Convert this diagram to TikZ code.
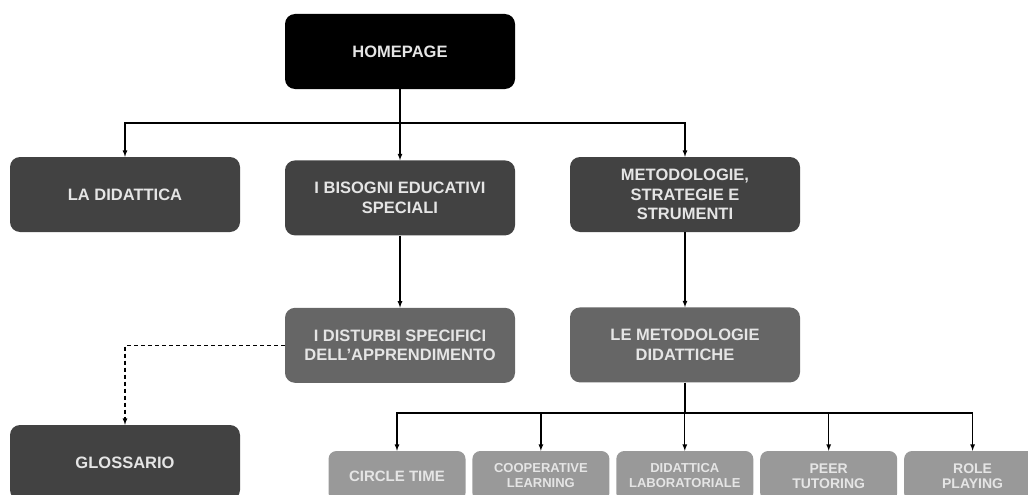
\documentclass[tikz,border=0pt]{standalone}
\usepackage{fontspec}
\setmainfont{Liberation Sans}
\usetikzlibrary{positioning}
\usetikzlibrary{arrows}

\newcommand{\pagetxt}{\fontsize{16.5}{19.5}\selectfont\bfseries}
\newcommand{\leaftxt}{\fontsize{13}{15}\selectfont\bfseries}

\begin{document}
\begin{tikzpicture}[x=1pt, y=-1pt]
    \tikzstyle{page-root} = [fill=black, text=white!90!black, rounded corners=10pt, minimum width=230pt, minimum height=75pt, inner sep=2pt, align=center, font=\pagetxt]
    \tikzstyle{page-main} = [page-root, fill=black!74]
    \tikzstyle{page-sub}  = [page-root, fill=black!60]
    \tikzstyle{page-leaf} = [page-root, fill=black!40, minimum width=137pt, minimum height=50pt, rounded corners=8pt, font=\leaftxt, node distance=6.5pt]
    \tikzstyle{link}      = [line width=1.2pt, -latex]
    \tikzstyle{soft-link} = [line width=1.2pt, dash pattern=on 4pt off 3pt, -latex]

    \clip (0,0) rectangle (1028,495);

    %
    % Homepage
    %
    \node[page-root] (home) at (400,51.5) {HOMEPAGE};

    %
    % First level
    %
    \node[page-main] (bes)       [below=71pt of home] {I BISOGNI EDUCATIVI\\SPECIALI};
    \node[page-main] (didattica) at (125,194.5)       {LA DIDATTICA};
    \node[page-main] (metodi)    at (685,194.5)       {METODOLOGIE,\\STRATEGIE E\\STRUMENTI};

    %
    % Second level
    %
    \node[page-sub]  (dsa)       [below=72pt of bes]    {I DISTURBI SPECIFICI\\DELL’APPRENDIMENTO};
    \node[page-sub]  (metdid)    [below=75pt of metodi] {LE METODOLOGIE\\DIDATTICHE};
    \node[page-main] (glossario) at (125,462.5)         {GLOSSARIO};

    %
    % Teaching methods
    %
    \node[page-leaf, font=\fontsize{15}{17}\selectfont\bfseries] (circle) at (397,476) {CIRCLE TIME};
    \node[page-leaf] (cooper)  [right=of circle]    {COOPERATIVE\\LEARNING};
    \node[page-leaf] (labor)   [right=of cooper]    {DIDATTICA\\LABORATORIALE};
    \node[page-leaf, font=\fontsize{14}{15.5}\selectfont\bfseries] (peer) [right=of labor] {PEER\\TUTORING};
    \node[page-leaf, font=\fontsize{14}{15.5}\selectfont\bfseries] (role) [right=of peer]  {ROLE\\PLAYING};

    \coordinate (home-split) at (400,123);
    \coordinate (met-split)  at (685,413);

    % Homepage arrows
    \draw[line width=1.2pt] (home.south) -- (home-split);
    \draw[link] (home-split) -| (didattica.north);
    \draw[link] (home-split) -- (bes.north);
    \draw[link] (home-split) -| (metodi.north);

    % Down arrows
    \draw[link] (bes)    to (dsa);
    \draw[link] (metodi) to (metdid);
    \draw[soft-link] (dsa.west) -| (glossario.north);

    % Methods arrows
    \draw[line width=1.2pt] (metdid.south) -- (met-split);
    \foreach \m in {circle, cooper, labor, peer, role}
        \draw[link] (met-split) -| (\m.north);
\end{tikzpicture}
\end{document}
